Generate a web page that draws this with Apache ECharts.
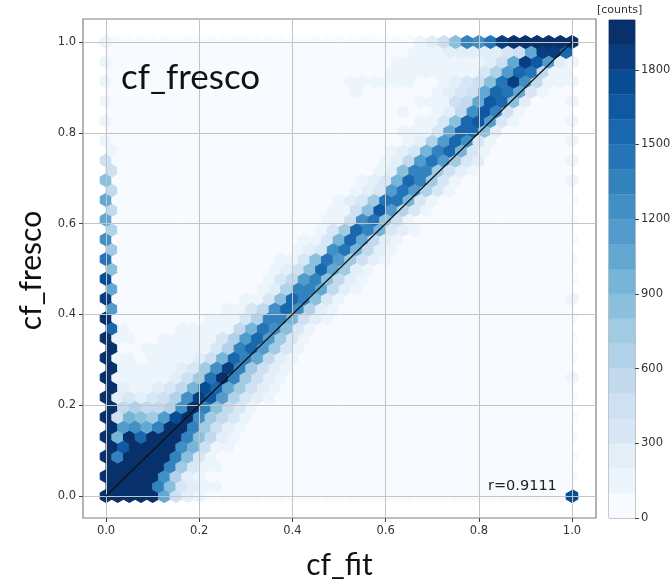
<!DOCTYPE html>
<html>
<head>
<meta charset="utf-8">
<style>html,body{margin:0;padding:0;background:#fff}#c{width:671px;height:583px}</style>
<script src="https://cdn.jsdelivr.net/npm/echarts@6/dist/echarts.min.js"></script>
</head>
<body>
<div id="c"></div>
<script>
// Tick labels
const xTicks = [0, 0.2, 0.4, 0.6, 0.8, 1.0];
const yTicks = [0, 0.2, 0.4, 0.6, 0.8, 1.0];
const barTicks = [0, 300, 600, 900, 1200, 1500, 1800];

// Hexbin lattice size: 40 columns, 23 rows (two interleaved lattices = 47 hex rows)
const gridNx = 40, gridNy = 23;

// Counts, in hundreds (colour band index).
// leftEdge[k]: first cell of hex row k.
const leftEdge = [19,19,19,19,19,19,19,19,19,19,19,19,19,19,19,19,19,15,19,11,18,10,17,8,14,7,12,6,10,5,10,5,8,4,4,1,1,0,1,0,1,0,1,0,1,0,1];
// bandStart[k]: column where the row's band values begin
const bandStart = [1,1,1,1,1,1,1,1,1,1,1,1,1,1,1,1,1,1,9,10,12,13,14,14,15,16,17,18,19,19,20,21,22,23,24,24,26,25,27,25,27,21,21,24,25,26,27];
const r00 = [19,19,19,19,10,4,2,1];
const r01 = [19,19,19,13,8,3,2,1,1];
const r02 = [19,19,19,19,12,6,2,1];
const r03 = [19,19,19,19,13,7,3,1,1];
const r04 = [13,19,19,19,19,13,8,3,1];
const r05 = [16,19,19,19,19,12,9,4,1,1];
const r06 = [9,19,15,19,19,19,13,8,5,2,1];
const r07 = [11,12,10,13,19,19,13,7,4,2,1];
const r08 = [4,9,8,7,11,17,19,12,7,5,3,1];
const r09 = [5,6,5,5,6,12,19,13,8,5,3,1];
const r10 = [2,3,2,3,4,6,12,18,16,11,6,3,2,1];
const r11 = [2,1,1,2,3,5,9,17,15,10,7,4,2,1];
const r12 = [1,1,1,1,1,2,4,7,14,19,13,7,4,2,1];
const r13 = [1,1,1,1,1,2,3,7,12,18,13,7,4,2,1];
const r14 = [1,1,0,1,1,1,1,2,4,9,15,13,10,5,2,1];
const r15 = [0,0,1,1,1,1,1,1,3,6,13,15,11,7,3,1];
const r16 = [1,1,0,0,1,1,1,1,1,3,6,11,15,11,7,3,1];
const r17 = [1,0,0,0,0,1,1,1,1,1,5,9,14,12,8,3,1];
const r18 = [1,1,1,3,6,13,13,9,4,2,1];
const r19 = [1,1,3,5,12,15,12,6,2,1];
const r20 = [1,1,3,8,15,13,8,3,1];
const r21 = [1,2,6,13,13,10,5,2,1];
const r22 = [1,3,5,11,13,8,5,2,1];
const r23 = [1,2,4,8,15,10,7,2,1];
const r24 = [1,1,3,8,14,11,7,4,2,1];
const r25 = [1,2,3,12,14,9,5,2,1];
const r26 = [1,1,3,9,15,10,5,2,1];
const r27 = [1,3,7,15,13,9,3,2,1];
const r28 = [1,1,4,12,14,8,4,1];
const r29 = [1,1,4,8,16,11,6,3,1];
const r30 = [1,2,3,7,14,14,9,3,1];
const r31 = [1,2,3,11,14,11,6,3,1];
const r32 = [1,2,3,9,15,13,7,3,1];
const r33 = [1,2,8,13,13,7,4,2,1];
const r34 = [1,2,5,11,14,11,7,3,2];
const r35 = [1,2,3,9,13,15,9,3,1];
const r36 = [1,2,6,11,15,12,3,1];
const r37 = [1,1,1,3,10,15,15,8,2];
const r38 = [1,1,3,8,15,16,11,3,1];
const r39 = [1,0,0,1,2,5,12,16,13,4,1];
const r40 = [1,1,1,4,5,10,16,15,8,2];
const r41 = [1,0,0,0,0,0,0,1,2,3,4,10,15,14,10,3,1];
const r42 = [1,1,1,1,1,1,0,0,1,2,3,4,8,14,18,12,5,1,1];
const r43 = [1,1,1,1,1,1,1,1,3,6,11,15,14,5,1,1];
const r44 = [1,1,1,1,1,1,1,1,2,4,10,18,16,11,2];
const r45 = [1,1,1,2,2,2,2,2,3,4,10,18,18,15,8];
const r46 = [1,2,4,8,13,12,14,18,19,19,19,19,19];
// Last column (x = 1.0)
const rightEdgeRows = [0,12,20,32,34,36,38,40,42,44,46];
const rightEdgeVals = [17,1,1,1,1,1,1,1,1,1,19];
const correlationLabel = 'r=0.9111';

const bandRows = [r00,r01,r02,r03,r04,r05,r06,r07,r08,r09,r10,r11,r12,r13,r14,r15,r16,r17,r18,r19,r20,r21,r22,r23,r24,r25,r26,r27,r28,r29,r30,r31,r32,r33,r34,r35,r36,r37,r38,r39,r40,r41,r42,r43,r44,r45,r46];

// Colour scale: matplotlib Blues in 20 bands
const anchors = [[247,251,255],[222,235,247],[198,219,239],[158,202,225],[107,174,214],[66,146,198],[33,113,181],[8,81,156],[8,48,107]];
const palette = [];
for (let n = 0; n < 20; n++) {
  const t = n / 19 * 8, a = Math.min(7, Math.floor(t)), f = t - a;
  const c = anchors[a].map((v, m) => Math.round(v + (anchors[a + 1][m] - v) * f));
  palette.push('rgb(' + c.join(',') + ')');
}
const colorOf = v => palette[Math.max(0, Math.min(19, Math.floor(v / 100)))];

// Build the hex table
const hexData = [];
for (let k = 0; k < bandRows.length; k++) {
  const even = k % 2 === 0, nCols = even ? gridNx + 1 : gridNx;
  for (let i = 0; i < nCols; i++) {
    let h = 0;
    if (i === 0) h = leftEdge[k];
    else if (even && i === gridNx) { const p = rightEdgeRows.indexOf(k); h = p >= 0 ? rightEdgeVals[p] : 0; }
    else { const o = i - bandStart[k]; if (o >= 0 && o < bandRows[k].length) h = bandRows[k][o]; }
    hexData.push([(even ? i : i + 0.5) / gridNx, k / (2 * gridNy), h * 100 + 50]);
  }
}
const barBands = palette.map((_, n) => [n * 100, (n + 1) * 100]);

const chart = echarts.init(document.getElementById('c'), null, {renderer: 'canvas'});
const tickFont = {fontFamily: 'DejaVu Sans', fontSize: 11.5, color: '#333'};
const sideFont = Object.assign({padding: [3, 0, 0, 0]}, tickFont);
chart.setOption({
  animation: false,
  backgroundColor: '#fff',
  grid: [
    {left: 83, right: 75, top: 19, bottom: 65, outerBoundsMode: 'none', show: true, borderColor: '#808080', borderWidth: 1.2, backgroundColor: 'transparent'},
    {left: 609, right: 36, top: 20, bottom: 65, outerBoundsMode: 'none', show: true, borderColor: '#808080', borderWidth: 1, backgroundColor: 'transparent'}
  ],
  xAxis: [
    {gridIndex: 0, type: 'value', min: -0.0494, max: 1.0515, z: 5,
     name: 'cf_fit', nameLocation: 'middle', nameGap: 32,
     nameTextStyle: {fontFamily: 'Lato', fontSize: 30, color: '#111'},
     axisLine: {show: false, onZero: false},
     axisTick: {show: true, length: 4, customValues: xTicks, lineStyle: {color: '#444'}},
     axisLabel: Object.assign({customValues: xTicks, margin: 7, formatter: v => v.toFixed(1)}, tickFont),
     splitLine: {show: true, lineStyle: {color: '#c4c4c4', width: 1}}},
    {gridIndex: 1, type: 'value', min: 0, max: 1, show: false}
  ],
  yAxis: [
    {gridIndex: 0, type: 'value', min: -0.0485, max: 1.0507, z: 5,
     name: 'cf_fresco', nameLocation: 'middle', nameGap: 36,
     nameTextStyle: {fontFamily: 'Lato', fontSize: 30, color: '#111', padding: [0, 4, 0, 0]},
     axisLine: {show: false, onZero: false},
     axisTick: {show: true, length: 4, customValues: yTicks, lineStyle: {color: '#444'}},
     axisLabel: Object.assign({customValues: yTicks, margin: 7, formatter: v => v.toFixed(1)}, sideFont),
     splitLine: {show: true, lineStyle: {color: '#c4c4c4', width: 1}}},
    {gridIndex: 1, type: 'value', position: 'right', min: 0, max: 2000, z: 5,
     axisLine: {show: false, onZero: false},
     axisTick: {show: true, length: 4, customValues: barTicks, lineStyle: {color: '#444'}},
     axisLabel: Object.assign({customValues: barTicks, margin: 6, formatter: v => String(v)}, sideFont),
     splitLine: {show: false}}
  ],
  series: [
    {type: 'custom', xAxisIndex: 0, yAxisIndex: 0, z: 1, silent: true, clip: false,
     data: hexData,
     encode: {x: 0, y: 1},
     renderItem: function (params, api) {
       const c = api.coord([api.value(0), api.value(1)]);
       const s = api.size([1 / gridNx, 1 / gridNy]);
       const w = s[0] / 2, a = s[1] / 6, b = s[1] / 3;
       const col = colorOf(api.value(2));
       return {type: 'polygon',
         shape: {points: [[c[0] + w, c[1] - a], [c[0] + w, c[1] + a], [c[0], c[1] + b], [c[0] - w, c[1] + a], [c[0] - w, c[1] - a], [c[0], c[1] - b]]},
         style: {fill: col, stroke: col, lineWidth: 1}};
     }},
    {type: 'line', xAxisIndex: 0, yAxisIndex: 0, z: 10, silent: true, showSymbol: false,
     data: [[0, 0], [1, 1]], lineStyle: {color: '#111', width: 1.2}},
    {type: 'custom', xAxisIndex: 1, yAxisIndex: 1, z: 1, silent: true,
     data: barBands, encode: {y: [0, 1]},
     renderItem: function (params, api) {
       const p0 = api.coord([0, api.value(0)]), p1 = api.coord([1, api.value(1)]);
       return {type: 'rect', shape: {x: p0[0], y: p1[1], width: p1[0] - p0[0], height: p0[1] - p1[1]},
         style: {fill: palette[params.dataIndex], stroke: palette[params.dataIndex], lineWidth: 0.3}};
     }}
  ],
  graphic: [
    {type: 'text', left: 121, top: 60, z: 20, style: {text: 'cf_fresco', fontFamily: 'Lato', fontSize: 35, fill: '#111'}},
    {type: 'text', left: 488, top: 479, z: 20, style: {text: correlationLabel, fontFamily: 'DejaVu Sans', fontSize: 14.5, fill: '#222'}},
    {type: 'text', left: 597, top: 5, z: 20, style: {text: '[counts]', fontFamily: 'DejaVu Sans', fontSize: 11, fill: '#333'}}
  ]
});
</script>
</body>
</html>
